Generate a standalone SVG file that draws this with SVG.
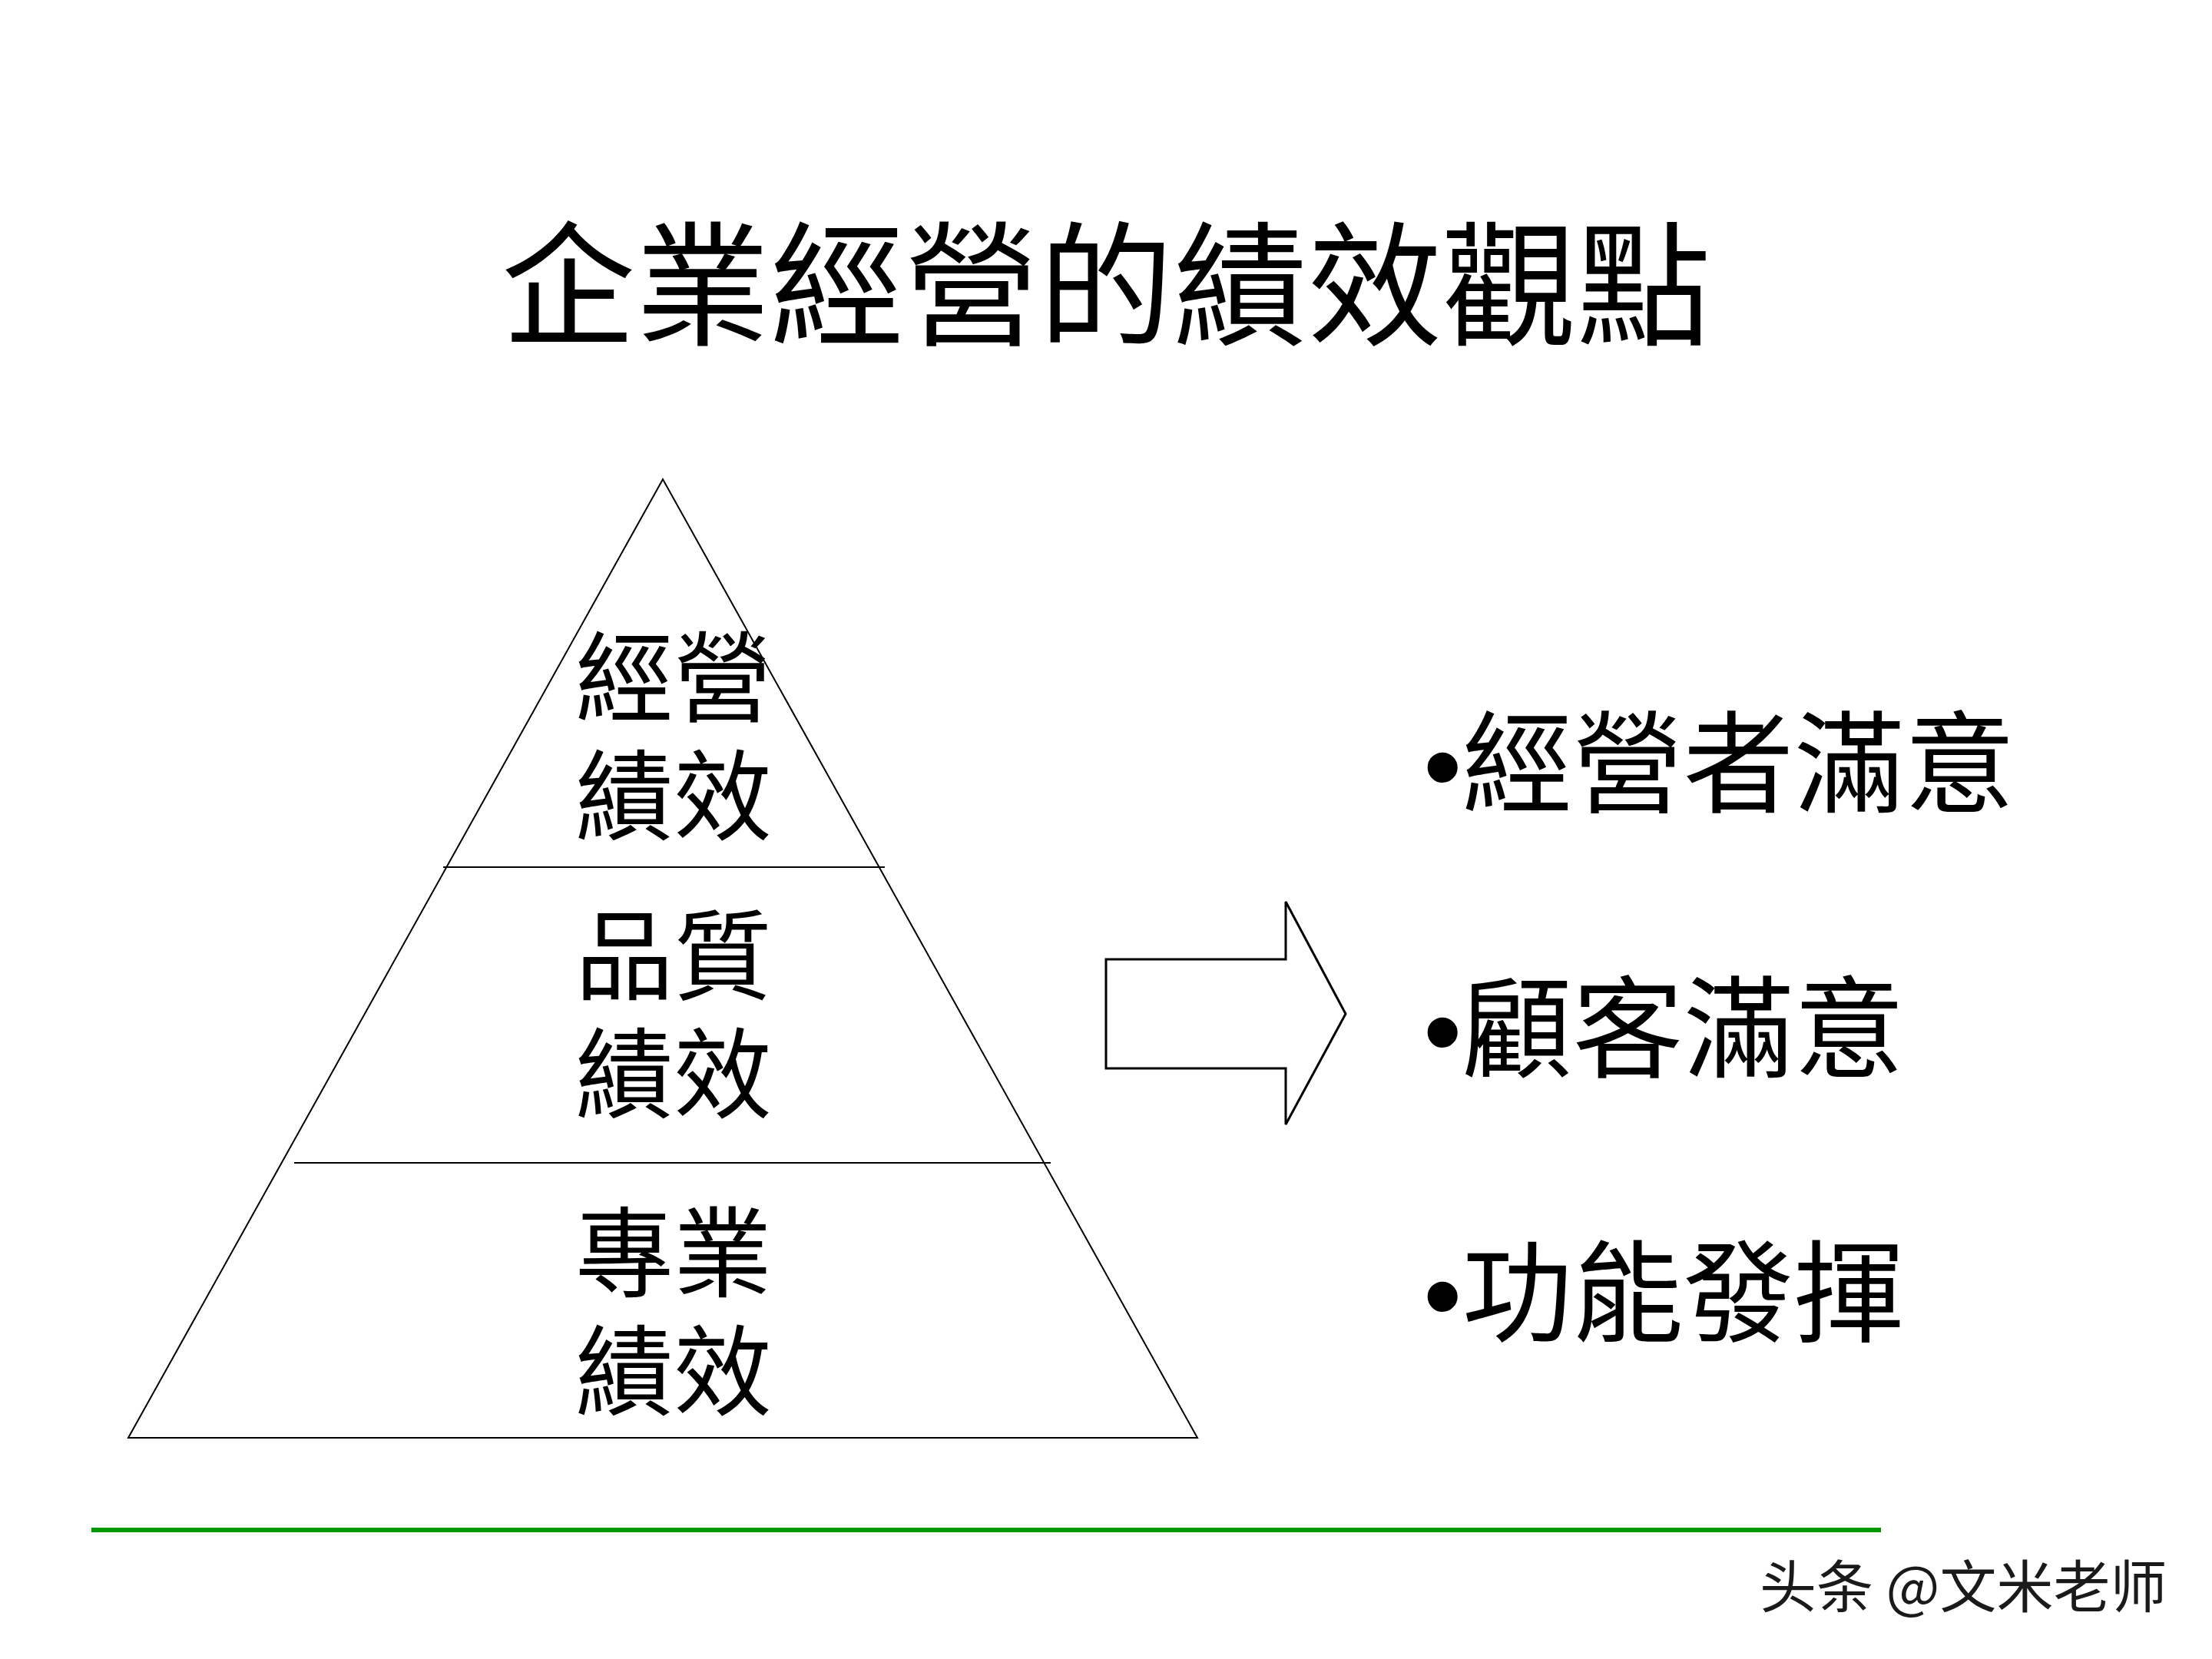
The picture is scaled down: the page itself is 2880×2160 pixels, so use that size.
<svg xmlns="http://www.w3.org/2000/svg" width="2880" height="2160" viewBox="0 0 2880 2160">
<style>
.cjk{font-family:"Noto Sans CJK TC","Noto Sans CJK SC",sans-serif;fill:#000}
.title{font-size:175px;text-anchor:middle}
.lbl{font-size:128px;text-anchor:middle}
.item{font-size:144px}
.bul{font-family:"Liberation Sans",Arial,sans-serif}
.shape{fill:none;stroke:#000;stroke-width:2}
</style>
<rect width="2880" height="2160" fill="#fff"/>
<g id="title"><text class="cjk title" x="1440" y="436">企業經營的績效觀點</text></g>
<g id="pyramid">
<polygon class="shape" points="863,624 167,1872 1559,1872"/>
<line class="shape" x1="577" y1="1129" x2="1152" y2="1129"/>
<line class="shape" x1="383" y1="1514" x2="1368" y2="1514"/>
</g>
<g id="level-top"><text class="cjk lbl" x="877" y="930">經營<tspan x="877" dy="154">績效</tspan></text></g>
<g id="level-mid"><text class="cjk lbl" x="877" y="1292">品質<tspan x="877" dy="154">績效</tspan></text></g>
<g id="level-bottom"><text class="cjk lbl" x="877" y="1679">專業<tspan x="877" dy="154">績效</tspan></text></g>
<g id="connectors">
<polygon fill="#fff" stroke="#000" stroke-width="3" points="1440,1249 1674,1249 1674,1174 1752,1320 1674,1464 1674,1391 1440,1391"/>
</g>
<g id="item1"><text class="cjk item" x="1853" y="1047"><tspan class="bul">•</tspan>經營者滿意</text></g>
<g id="item2"><text class="cjk item" x="1853" y="1392"><tspan class="bul">•</tspan>顧客滿意</text></g>
<g id="item3"><text class="cjk item" x="1853" y="1736"><tspan class="bul">•</tspan>功能發揮</text></g>
<line x1="119" y1="1992" x2="2449" y2="1992" stroke="#009a00" stroke-width="6"/>
<text x="2291" y="2093" font-family="Noto Sans CJK SC, sans-serif" font-size="74" fill="#1a1a1a">头条 @文米老师</text>
</svg>
